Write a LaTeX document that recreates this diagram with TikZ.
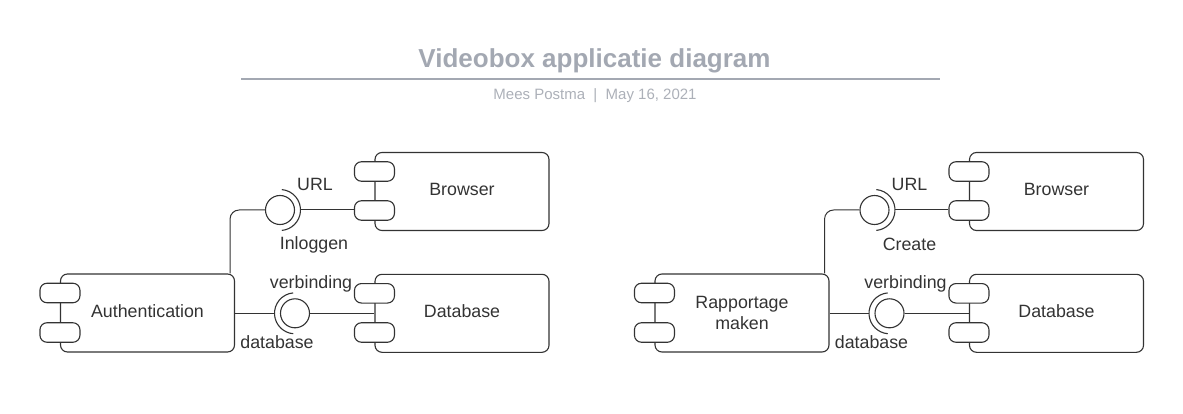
\documentclass[tikz,border=0pt]{standalone}
\usepackage{fontspec}
\setmainfont{Liberation Sans}
\definecolor{ink}{HTML}{333333}
\definecolor{titlegray}{HTML}{A3A8B2}
\definecolor{subgray}{HTML}{ACB0B8}
\newcommand{\lblfont}{\fontsize{17.8}{21}\selectfont}
\begin{document}
\begin{tikzpicture}[x=1pt,y=-1pt,
  comp/.style={draw=ink, line width=1.1pt, rounded corners=7pt, minimum width=174pt, minimum height=78pt, inner sep=0pt, font=\lblfont, text=ink, align=center},
  oneline/.style={text height=13pt, text depth=4pt},
  port/.style={draw=ink, fill=white, line width=1.1pt, rounded corners=7pt, minimum width=40pt, minimum height=19.5pt, inner sep=0pt},
  ball/.style={circle, draw=ink, fill=white, line width=1.1pt, minimum size=29pt, inner sep=0pt},
  sock/.style={draw=ink, line width=1.1pt},
  wire/.style={draw=ink, line width=1pt},
  lbl/.style={font=\lblfont, text=ink, inner sep=0pt}]
\useasboundingbox (0,0) rectangle (1183,414);
% title
\node[font=\bfseries\fontsize{26}{30}\selectfont, text=titlegray, inner sep=0pt] (title) at (594.5,61) {Videobox applicatie diagram};
\coordinate (rl) at (241,79);
\coordinate (rr) at (940,79);
\draw[titlegray, line width=1.5pt] (rl) -- (rr);
\node[font=\fontsize{15}{17}\selectfont, text=subgray, inner sep=0pt] (sub) at (595,96) {Mees Postma \ | \ May 16, 2021};

% ---------- left group ----------
\node[comp, oneline] (auth) at (147.5,313) {Authentication};
\node[port] (authp1) at (auth.west |- 0,293) {};
\node[port] (authp2) at (auth.west |- 0,332.5) {};
\node[comp, oneline] (br1) at (462,191.5) {Browser};
\node[port] (br1p1) at (br1.west |- 0,171.5) {};
\node[port] (br1p2) at (br1.west |- 0,210.5) {};
\node[comp, oneline] (db1) at (462,313.3) {Database};
\node[port] (db1p1) at (db1.west |- 0,293.3) {};
\node[port] (db1p2) at (db1.west |- 0,332.5) {};
% URL interface
\node[ball] (u1) at (280,210) {};
\draw[sock] ([shift={(85:20.5pt)}]u1.center) arc[start angle=85, end angle=-85, radius=20.5pt];
\coordinate (u1s) at ([xshift=20.5pt]u1.center);
\draw[wire, rounded corners=9pt] ([xshift=-5pt]auth.north east) |- (u1.west);
\draw[wire] (u1s) -- (u1s -| br1p2.west);
\node[lbl] (u1a) at (315,184) {URL};
\node[lbl] (u1b) at (314,244.5) {Inloggen};
% database interface
\node[ball] (d1) at (295,313.3) {};
\draw[sock] ([shift={(95:20.5pt)}]d1.center) arc[start angle=95, end angle=265, radius=20.5pt];
\coordinate (d1s) at ([xshift=-20.5pt]d1.center);
\draw[wire] (d1s -| auth.east) -- (d1s);
\draw[wire] (d1.east) -- (d1.east -| db1.west);
\node[lbl] (d1a) at (311,284) {verbinding};
\node[lbl] (d1b) at (277,342) {database};

% ---------- right group ----------
\node[comp] (rap) at (742,313) {Rapportage\\maken};
\node[port] (rapp1) at (rap.west |- 0,293) {};
\node[port] (rapp2) at (rap.west |- 0,332.5) {};
\node[comp, oneline] (br2) at (1056.5,191.5) {Browser};
\node[port] (br2p1) at (br2.west |- 0,171.5) {};
\node[port] (br2p2) at (br2.west |- 0,210.5) {};
\node[comp, oneline] (db2) at (1056.5,313.3) {Database};
\node[port] (db2p1) at (db2.west |- 0,293.3) {};
\node[port] (db2p2) at (db2.west |- 0,332.5) {};
% URL interface
\node[ball] (u2) at (874.5,210) {};
\draw[sock] ([shift={(85:20.5pt)}]u2.center) arc[start angle=85, end angle=-85, radius=20.5pt];
\coordinate (u2s) at ([xshift=20.5pt]u2.center);
\draw[wire, rounded corners=9pt] ([xshift=-5pt]rap.north east) |- (u2.west);
\draw[wire] (u2s) -- (u2s -| br2p2.west);
\node[lbl] (u2a) at (909.5,184) {URL};
\node[lbl] (u2b) at (909.5,244) {Create};
% database interface
\node[ball] (d2) at (889.5,313.3) {};
\draw[sock] ([shift={(95:20.5pt)}]d2.center) arc[start angle=95, end angle=265, radius=20.5pt];
\coordinate (d2s) at ([xshift=-20.5pt]d2.center);
\draw[wire] (d2s -| rap.east) -- (d2s);
\draw[wire] (d2.east) -- (d2.east -| db2.west);
\node[lbl] (d2a) at (905.5,284) {verbinding};
\node[lbl] (d2b) at (871.5,342) {database};
\end{tikzpicture}
\end{document}
